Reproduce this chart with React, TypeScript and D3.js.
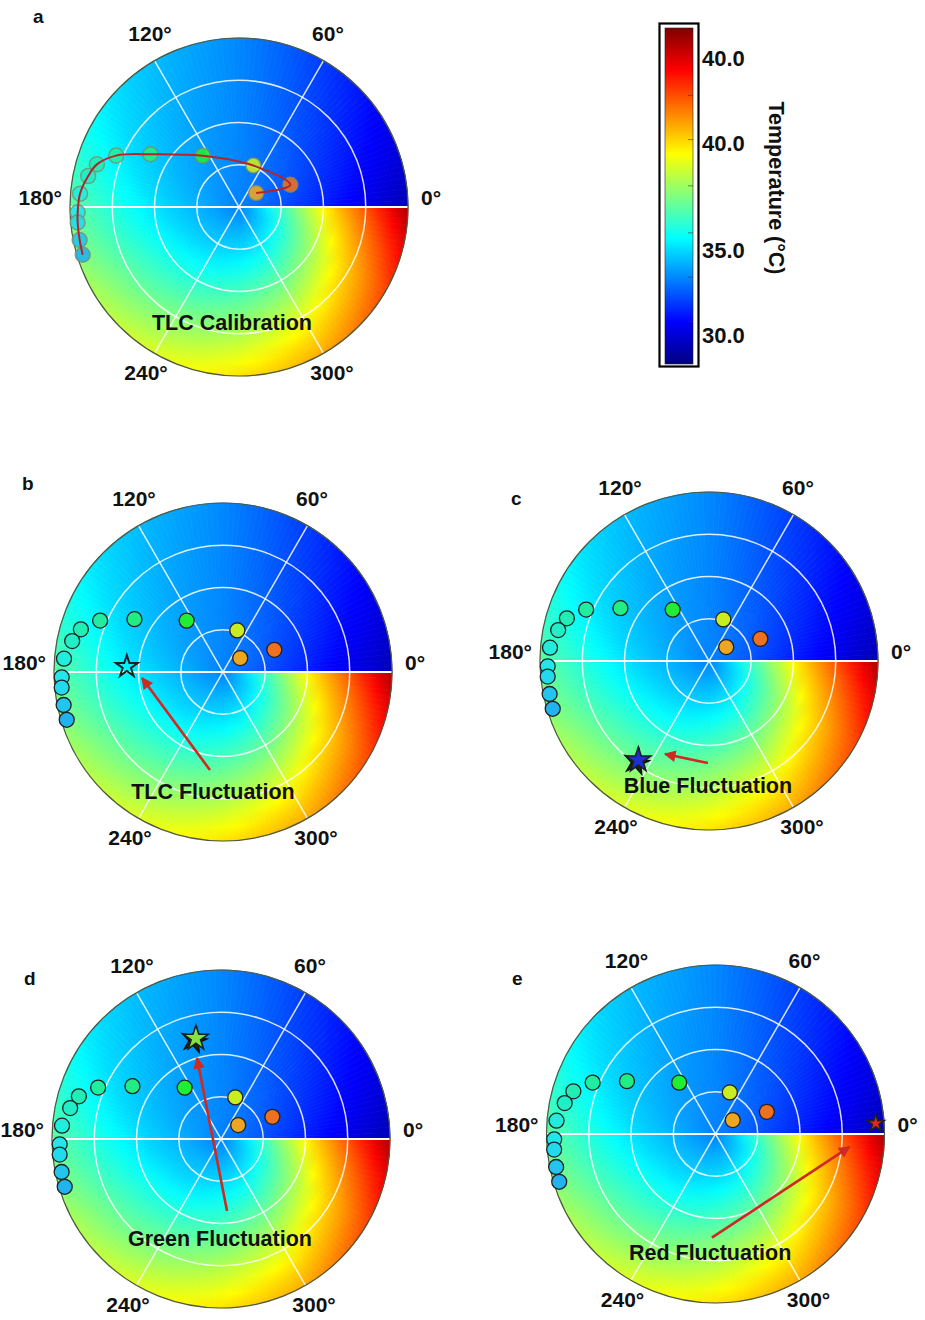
import React from "react";
import * as d3 from "d3";

const W = 925;
const H = 1320;
const R = 169;

// colour bar (temperature values and where they sit on the bar)
const barDomain = [28.3, 30, 35, 40, 45, 46.6];
const barPixels = [364, 335, 250, 143, 58, 28];
const barTickValues = [30, 35, 40, 45];
const barTickLabels = ["30.0", "35.0", "40.0", "40.0"];
const barMinorTicks = [30.8, 33.4, 35.8, 38.0, 40.2, 42.8];

// background temperature field: centre value, edge value by hue angle
const fieldCentre = 33.3;
const fieldAngles = [0, 30, 60, 90, 120, 150, 180, 210, 240, 270, 300, 330, 360];
const fieldEdge = [29.3, 30.5, 31.9, 33.4, 34.4, 35.6, 37.0, 38.2, 39.0, 39.9, 41.0, 43.0, 45.9];

// calibration points (hue angle in degrees, saturation 0..1)
const calHue = [39, 23.4, 71, 125.3, 149.2, 157.3, 163.3, 168.4, 175.2, 181.9, 185.5, 191.7, 197];
const calSat = [0.131, 0.331, 0.26, 0.372, 0.61, 0.788, 0.878, 0.911, 0.944, 0.955, 0.959, 0.963, 0.967];

// panels
const panelLetters = ["a", "b", "c", "d", "e"];
const panelTitles = ["TLC Calibration", "TLC Fluctuation", "Blue Fluctuation", "Green Fluctuation", "Red Fluctuation"];
const titleHue = [266.5, 265.2, 269.5, 269.4, 267.4];
const titleSat = [0.684, 0.712, 0.734, 0.586, 0.703];
const starHue = [null, 176.8, 234.5, 104, 3.8];
const starSat = [null, 0.57, 0.72, 0.614, 0.95];
const arrowFromHue = [null, 262.4, 269.4, 274.8, 268];
const arrowFromSat = [null, 0.585, 0.604, 0.427, 0.614];
const arrowToHue = [null, 184.2, 244.7, 106.5, 354.5];
const arrowToSat = [null, 0.48, 0.609, 0.5, 0.797];

const gridAngles = [0, 60, 120, 180, 240, 300];
const ringLevels = [0.25, 0.5, 0.75];

const layout = [
  { cx: 239, cy: 207, lx: 33, ly: 23 },
  { cx: 223, cy: 672, lx: 22, ly: 490 },
  { cx: 709, cy: 661, lx: 511, ly: 505 },
  { cx: 221, cy: 1139, lx: 24, ly: 985 },
  { cx: 715.5, cy: 1134, lx: 512, ly: 985 },
];
const starFill = [null, "none", "#1f2fd6", "#86e23c", "#e8261c"];
const starRadius = [0, 11.5, 13, 13, 9];

const FONT = "'Liberation Sans', Arial, sans-serif";

function jet(f: number) {
  const c = (v: number) => Math.max(0, Math.min(1, v));
  f = c(f);
  const r = c(1.5 - Math.abs(4 * f - 3));
  const g = c(1.5 - Math.abs(4 * f - 2));
  const b = c(1.5 - Math.abs(4 * f - 1));
  return d3.rgb(r * 255, g * 255, b * 255).formatHex();
}

const barY = d3.scaleLinear().domain(barDomain).range(barPixels).clamp(true);
const tempColor = (t: number) => jet((364 - barY(t)) / 336);
const edgeTemp = d3.scaleLinear().domain(fieldAngles).range(fieldEdge);
const rScale = d3.scaleLinear().domain([0, 1]).range([0, R]);

function polar(hue: number, sat: number): [number, number] {
  const a = (hue * Math.PI) / 180;
  return [rScale(sat) * Math.cos(a), -rScale(sat) * Math.sin(a)];
}

const STEP = 2;
const wedges = d3.range(0, 360, STEP).map((a0, i) => {
  const a1 = a0 + STEP;
  const path = d3.arc()({
    innerRadius: 0,
    outerRadius: R,
    startAngle: Math.PI / 2 - (a1 * Math.PI) / 180,
    endAngle: Math.PI / 2 - (a0 * Math.PI) / 180,
  } as any) as string;
  const te = edgeTemp(a0 + STEP / 2);
  const stops = d3.range(0, 13).map((k) => {
    const t = k / 12;
    return { off: t, color: tempColor(fieldCentre + t * (te - fieldCentre)) };
  });
  return { id: `w${i}`, path, stops };
});

const pointColor = (hue: number) => d3.hsl(hue, 0.85, 0.53).formatHex();

function angleLabel(deg: number) {
  const a = (deg * Math.PI) / 180;
  if (deg === 0) return { x: R + 13, y: -9, anchor: "start" };
  if (deg === 180) return { x: -R - 8, y: -9, anchor: "end" };
  const up = deg < 180;
  return { x: Math.cos(a) * (up ? 178 : 186), y: up ? -173 : 166, anchor: "middle" };
}

function Panel({ idx }: { idx: number }) {
  const { cx, cy } = layout[idx];
  const pts = calHue.map((h, i) => polar(h, calSat[i]));
  const line = d3.line().curve(d3.curveCatmullRom.alpha(0.5))(pts as any) as string;
  const faded = idx === 0;
  const [tx, ty] = polar(titleHue[idx], titleSat[idx]);
  const sh = starHue[idx];
  let star: any = null;
  if (sh !== null) {
    const [sx, sy] = polar(sh, starSat[idx] as number);
    const rr = starRadius[idx];
    const sym = d3.symbol().type(d3.symbolStar).size((rr * rr) / 0.8908130915292852)() as string;
    star = (
      <g transform={`translate(${sx},${sy})`}>
        {(idx === 2 || idx === 3) && (
          <path d={sym} transform="translate(-2,2) rotate(12)" fill="#142a10" stroke="#111" strokeWidth={1.5} />
        )}
        <path d={sym} fill={starFill[idx] as string} stroke="#1a2222" strokeWidth={idx === 1 ? 2 : 1.6} />
      </g>
    );
  }
  let arrow: any = null;
  if (arrowFromHue[idx] !== null) {
    const [x1, y1] = polar(arrowFromHue[idx] as number, arrowFromSat[idx] as number);
    const [x2, y2] = polar(arrowToHue[idx] as number, arrowToSat[idx] as number);
    arrow = <line x1={x1} y1={y1} x2={x2} y2={y2} stroke="#cf2a22" strokeWidth={2.6} markerEnd="url(#ah)" />;
  }
  return (
    <g>
      <text x={layout[idx].lx} y={layout[idx].ly} fontFamily={FONT} fontWeight="bold" fontSize={19} fill="#111">
        {panelLetters[idx]}
      </text>
      <g transform={`translate(${cx},${cy})`}>
        {wedges.map((w) => (
          <path key={w.id} d={w.path} fill={`url(#${w.id})`} stroke={`url(#${w.id})`} strokeWidth={0.8} />
        ))}
        {ringLevels.map((l) => (
          <circle key={l} r={rScale(l)} fill="none" stroke="#fff" strokeOpacity={0.85} strokeWidth={1.5} />
        ))}
        {[60, 120].map((g) => {
          const [x1, y1] = polar(g, 1);
          return <line key={g} x1={x1} y1={y1} x2={-x1} y2={-y1} stroke="#fff" strokeOpacity={0.85} strokeWidth={1.5} />;
        })}
        <line x1={-R} y1={0} x2={R} y2={0} stroke="#fff" strokeWidth={2} />
        <circle r={R} fill="none" stroke="#4f5a45" strokeWidth={1.2} />
        {pts.map(([x, y], i) => (
          <circle
            key={i}
            cx={x}
            cy={y}
            r={7.5}
            fill={pointColor(calHue[i])}
            fillOpacity={faded ? 0.9 : 1}
            stroke={faded ? "#7d8a6a" : "#222"}
            strokeOpacity={faded ? 0.75 : 1}
            strokeWidth={faded ? 1.5 : 1.3}
          />
        ))}
        {faded && <path d={line} fill="none" stroke="#b3252a" strokeWidth={2} />}
        {star}
        {arrow}
        <text x={tx} y={ty} dy="0.35em" textAnchor="middle" fontFamily={FONT} fontWeight="bold" fontSize={21.5} fill="#111">
          {panelTitles[idx]}
        </text>
        {gridAngles.map((g) => {
          const p = angleLabel(g);
          return (
            <text key={g} x={p.x} y={p.y} dy="0.35em" textAnchor={p.anchor as any} fontFamily={FONT} fontWeight="bold" fontSize={21} fill="#111">
              {`${g}°`}
            </text>
          );
        })}
      </g>
    </g>
  );
}

function ColorBar() {
  const x0 = 665;
  const bw = 28;
  return (
    <g>
      <rect x={659.5} y={23.5} width={39} height={343} fill="#fff" stroke="#000" strokeWidth={2.2} />
      <rect x={x0} y={barPixels[5]} width={bw} height={barPixels[0] - barPixels[5]} fill="url(#bar)" stroke="#222" strokeWidth={0.6} />
      {barMinorTicks.map((t) => (
        <line key={t} x1={x0 + bw - 5} x2={x0 + bw} y1={barY(t)} y2={barY(t)} stroke="#333" strokeOpacity={0.6} strokeWidth={1} />
      ))}
      {barTickValues.map((t, i) => (
        <text key={i} x={702} y={barY(t)} dy="0.35em" fontFamily={FONT} fontWeight="bold" fontSize={22} fill="#111">
          {barTickLabels[i]}
        </text>
      ))}
      <text transform="translate(769,188) rotate(90)" textAnchor="middle" fontFamily={FONT} fontWeight="bold" fontSize={21.5} fill="#111">
        Temperature (°C)
      </text>
    </g>
  );
}

export default function App() {
  return (
    <svg width={W} height={H} style={{ position: "absolute", left: 0, top: 0, background: "#fff" }}>
      <defs>
        {wedges.map((w) => (
          <radialGradient key={w.id} id={w.id} gradientUnits="userSpaceOnUse" cx={0} cy={0} r={R}>
            {w.stops.map((s, k) => (
              <stop key={k} offset={s.off} stopColor={s.color} />
            ))}
          </radialGradient>
        ))}
        <linearGradient id="bar" x1="0" y1="1" x2="0" y2="0">
          {d3.range(0, 9).map((k) => (
            <stop key={k} offset={k / 8} stopColor={jet(k / 8)} />
          ))}
        </linearGradient>
        <marker id="ah" viewBox="0 0 10 10" refX={9} refY={5} markerWidth={5.5} markerHeight={4.5} orient="auto" markerUnits="strokeWidth">
          <path d="M0,0 L10,5 L0,10 z" fill="#cf2a22" />
        </marker>
      </defs>
      {layout.map((_, i) => (
        <Panel key={i} idx={i} />
      ))}
      <ColorBar />
    </svg>
  );
}
